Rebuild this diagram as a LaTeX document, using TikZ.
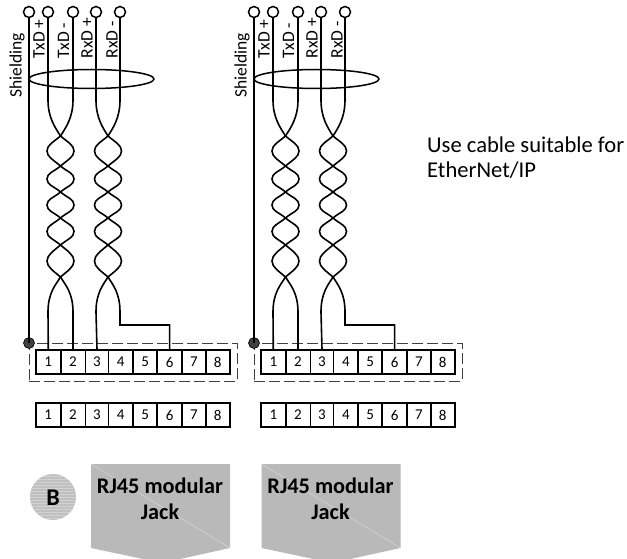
\documentclass[tikz,border=0pt]{standalone}
\usepackage{fontspec}
\setmainfont{Carlito}
\usetikzlibrary{shapes.geometric}
\definecolor{jackgray}{HTML}{B9B9B9}
\definecolor{dotgray}{HTML}{404040}
\definecolor{dashgray}{HTML}{404040}
\tikzset{
  wire/.style={line width=1.6pt,black},
  terminal/.style={circle,draw=black,line width=1.5pt,fill=white,minimum size=11pt,inner sep=0pt},
  cellbox/.style={draw=black,line width=1.6pt,fill=white,minimum height=24pt,inner sep=0pt,font=\fontsize{15}{15}\selectfont},
  sig/.style={rotate=90,anchor=west,inner sep=0pt,font=\fontsize{17.5}{17.5}\selectfont},
  bundle/.style={ellipse,draw=black,line width=1.5pt,minimum width=125pt,minimum height=19pt,inner sep=0pt},
  dashframe/.style={draw=dashgray,line width=1pt,dash pattern=on 11pt off 4pt,minimum width=208pt,minimum height=38pt,inner sep=0pt},
  shieldpt/.style={circle,draw=black,line width=.6pt,fill=dotgray,minimum size=11pt,inner sep=0pt},
  jacktext/.style={align=center,inner sep=0pt,font=\fontsize{22.3}{26}\selectfont\bfseries},
  plaintext/.style={align=left,anchor=north west,inner sep=0pt,font=\fontsize{22.6}{25}\selectfont}
}
\newcommand\lobe[4]{ .. controls ({#1+#2*7},{#3+6}) and ({#1+#2*13.5},{(#3+#4)/2-6}) .. ({#1+#2*13.5},{(#3+#4)/2})
  .. controls ({#1+#2*13.5},{(#3+#4)/2+6}) and ({#1+#2*7},{#4-6}) .. ({#1},#4) }
\newcommand\strandpath[3]{ -- (#3,100) .. controls (#3,118) and ({#1-#2*5},128) .. ({#1},136)
  \lobe{#1}{#2}{136}{166} \lobe{#1}{-#2}{166}{192} \lobe{#1}{#2}{192}{218} \lobe{#1}{-#2}{218}{245} \lobe{#1}{#2}{245}{277}
  .. controls ({#1-#2*5},285) and (#3,293) .. (#3,312) }
\begin{document}
\begin{tikzpicture}[x=1pt,y=-1pt]
\useasboundingbox (0,0) rectangle (627,559);
\foreach \g/\dx in {a/0,b/225}{
\begin{scope}[xshift=\dx pt]
  \node[dashframe] (frame\g) at (133,362) {};
  \foreach \n/\cx/\w in {1/48.3/24.6,2/73/24.6,3/97/23.4,4/120.8/24.3,5/145.2/24.3,6/169.6/24.7,7/193.8/23.7,8/217.7/24}{
    \node[cellbox,minimum width=\w pt] (c\n\g) at (\cx,362) {\n};
    \node[cellbox,minimum width=\w pt] (d\n\g) at (\cx,415) {\n};
  }
  \node[terminal] (t1\g) at (29,12) {};
  \node[terminal] (t2\g) at (48,12) {};
  \node[terminal] (t3\g) at (73,12) {};
  \node[terminal] (t4\g) at (96,12) {};
  \node[terminal] (t5\g) at (120,12) {};
  \node[shieldpt] (dot\g) at (29,343) {};
  \draw[wire] (t1\g.south) -- (dot\g.center);
  \draw[wire] (t2\g.south) \strandpath{60.5}{1}{48} -- (c1\g.north);
  \draw[wire] (t3\g.south) \strandpath{60.5}{-1}{73} -- (c2\g.north);
  \draw[wire] (t4\g.south) \strandpath{108}{1}{96} -- (c3\g.north);
  \coordinate (bend\g) at (120,325);
  \draw[wire] (t5\g.south) \strandpath{108}{-1}{120} -- (bend\g) -| (c6\g.north);
  \node[bundle] (ell\g) at (91.5,79) {};
  \node[sig] (ls\g) at (17,98) {Shielding};
  \node[sig] (l1\g) at (39,58.5) {TxD +};
  \node[sig] (l2\g) at (63.5,58.5) {TxD -};
  \node[sig] (l3\g) at (87,58.5) {RxD +};
  \node[sig] (l4\g) at (112,58.5) {RxD -};
\end{scope}
}
\foreach \g/\dx in {a/0,b/170.5}{
\begin{scope}[xshift=\dx pt]
  \fill[jackgray] (91,464) -- (230,464) -- (230,548) -- (180,559) -- (143,559) -- (91,548) -- cycle;
  \draw[white!60!jackgray,line width=.3pt] (91,464) -- (230,548);
  \node[jacktext] (jack\g) at (160,499) {RJ45 modular\\Jack};
\end{scope}
}
\begin{scope}
  \clip (53,497) circle (23);
  \fill[jackgray!90!white] (30,474) rectangle (76,520);
  \foreach \yy in {476,479,...,518}{\draw[white!35!jackgray,line width=.5pt] (30,\yy) -- (76,\yy);}
\end{scope}
\node[inner sep=0pt,font=\fontsize{24}{24}\selectfont\bfseries] (badge) at (53,498) {B};
\node[plaintext] (note) at (427,137) {Use cable suitable for\\EtherNet/IP};
\end{tikzpicture}
\end{document}
